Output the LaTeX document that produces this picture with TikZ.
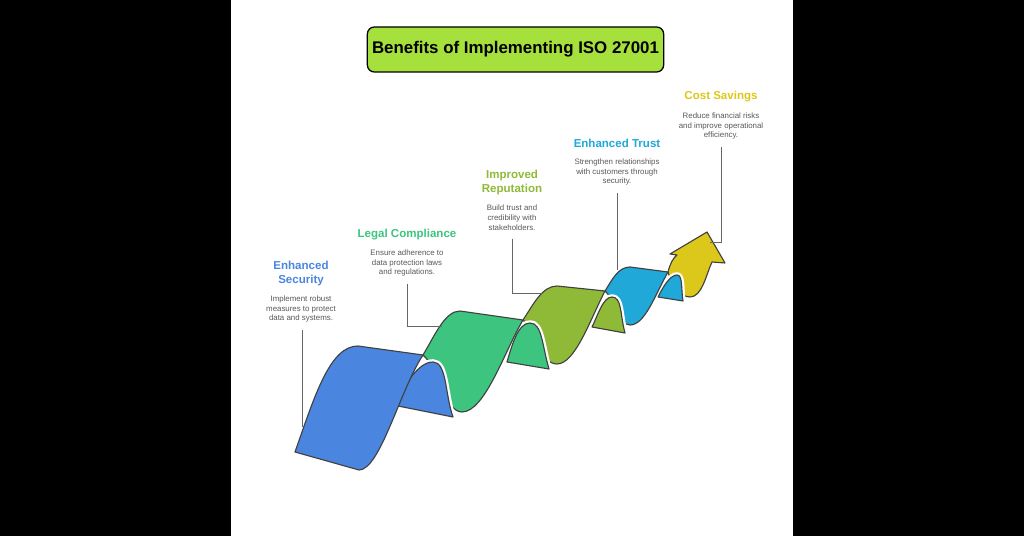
\documentclass[tikz,border=0pt]{standalone}
\usepackage{fontspec}
\setmainfont{Liberation Sans}
\begin{document}
\begin{tikzpicture}[x=0.025cm,y=-0.025cm,
  rib/.style={draw=black!75,line width=0.8pt,line join=round},
  gap/.style={draw=white,line width=4pt,line join=round},
  ttl/.style={font=\bfseries\fontsize{8.2}{9.5}\selectfont,align=center},
  dsc/.style={font=\fontsize{5.6}{7}\selectfont,align=center,text=black!65},
  lead/.style={draw=black!60,line width=0.7pt}]
\definecolor{cb}{HTML}{4A86E0}\definecolor{cg}{HTML}{3DC47E}
\definecolor{co}{HTML}{8FBA38}\definecolor{ct}{HTML}{1FA8D8}
\definecolor{cy}{HTML}{DCC81A}\definecolor{tb}{HTML}{A6E03C}
\fill[black] (0,0) rectangle (1024,536);
\fill[white] (231,0) rectangle (793,536);
\useasboundingbox (0,0) rectangle (1024,536);
\node[draw=black,line width=0.9pt,fill=tb,rounded corners=5pt,minimum width=281*0.025cm,minimum height=45*0.025cm,font=\bfseries\fontsize{12}{14}\selectfont] (title) at (515.5,49.5) {Benefits of Implementing ISO 27001};
% yellow arrow
\fill[cy,rib] (668,272) .. controls (670,264) and (673,258) .. (677,255) -- (670,254) -- (707,232) -- (725,263) -- (712,262) .. controls (706,275) and (702,297) .. (690,297) .. controls (680,297) and (672,285) .. (668,272) -- cycle;
% trust tail
\path[gap] (658,297) -- (683,301) .. controls (681,290) and (683,275) .. (677,275) .. controls (670,275) and (663,287) .. (658,297);
\fill[ct,rib] (658,297) -- (683,301) .. controls (681,290) and (683,275) .. (677,275) .. controls (670,275) and (663,287) .. (658,297) -- cycle;
% trust front
\fill[ct,rib] (605,291) .. controls (612,280) and (618,267) .. (630,267) -- (668,272) .. controls (655,295) and (645,325) .. (630,325) .. controls (618,325) and (615,300) .. (605,291) -- cycle;
% olive tail
\path[gap] (592,327) -- (625,333) .. controls (620,315) and (622,297) .. (612,297) .. controls (603,297) and (598,315) .. (592,327);
\fill[co,rib] (592,327) -- (625,333) .. controls (620,315) and (622,297) .. (612,297) .. controls (603,297) and (598,315) .. (592,327) -- cycle;
% olive front
\fill[co,rib] (523,320) .. controls (533,305) and (542,286) .. (557,286) -- (605,291) .. controls (590,320) and (575,364) .. (557,364) .. controls (540,364) and (535,330) .. (523,320) -- cycle;
% green tail
\path[gap] (507,362) -- (549,369) .. controls (542,345) and (542,323) .. (530,323) .. controls (518,323) and (512,345) .. (507,362);
\fill[cg,rib] (507,362) -- (549,369) .. controls (542,345) and (542,323) .. (530,323) .. controls (518,323) and (512,345) .. (507,362) -- cycle;
% green front
\fill[cg,rib] (423,355) .. controls (435,335) and (445,311) .. (460,311) -- (523,320) .. controls (505,350) and (485,412) .. (462,412) .. controls (445,412) and (440,370) .. (423,355) -- cycle;
% blue tail
\path[gap] (393,405) -- (453,417) .. controls (445,395) and (447,362) .. (433,362) .. controls (418,362) and (405,385) .. (393,405);
\fill[cb,rib] (393,405) -- (453,417) .. controls (445,395) and (447,362) .. (433,362) .. controls (418,362) and (405,385) .. (393,405) -- cycle;
% blue front
\fill[cb,rib] (295,452) .. controls (315,395) and (330,346) .. (358,346) -- (423,355) .. controls (400,390) and (380,470) .. (359,470) -- cycle;
% labels
\node[ttl,text=cb] (t1) at (301,273.5) {Enhanced\\Security};
\node[dsc] (d1) at (301,309) {Implement robust\\measures to protect\\data and systems.};
\node[ttl,text=cg] (t2) at (407,235) {Legal Compliance};
\node[dsc] (d2) at (407,263) {Ensure adherence to\\data protection laws\\and regulations.};
\node[ttl,text=co] (t3) at (512,182.5) {Improved\\Reputation};
\node[dsc] (d3) at (512,218) {Build trust and\\credibility with\\stakeholders.};
\node[ttl,text=ct] (t4) at (617,143) {Enhanced Trust};
\node[dsc] (d4) at (617,172) {Strengthen relationships\\with customers through\\security.};
\node[ttl,text=cy] (t5) at (721,97) {Cost Savings};
\node[dsc] (d5) at (721,126) {Reduce financial risks\\and improve operational\\efficiency.};
% leaders
\coordinate (e1) at (302,427);
\coordinate (e2a) at (407,326);\coordinate (e2) at (442,326);
\coordinate (e3a) at (512,293);\coordinate (e3) at (543,293);
\coordinate (e4) at (617,270);
\coordinate (e5a) at (721,242);\coordinate (e5) at (710,242);
\draw[lead] (d1.south -| e1) ++(0,3) -- (e1);
\draw[lead] (d2.south -| e2a) ++(0,3) -- (e2a) -- (e2);
\draw[lead] (d3.south -| e3a) ++(0,3) -- (e3a) -- (e3);
\draw[lead] (d4.south -| e4) ++(0,3) -- (e4);
\draw[lead] (d5.south -| e5a) ++(0,3) -- (e5a) -- (e5);
\end{tikzpicture}
\end{document}
